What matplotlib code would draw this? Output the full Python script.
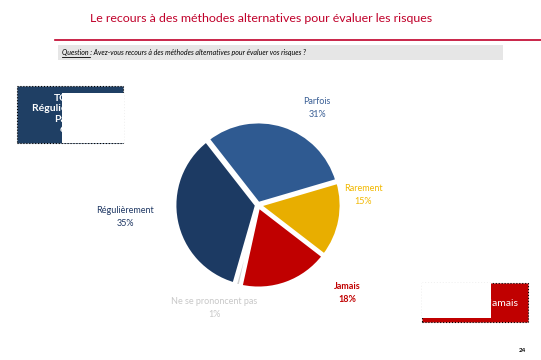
import matplotlib
matplotlib.use('Agg')
import matplotlib.pyplot as plt
from matplotlib.patches import Rectangle
from matplotlib.lines import Line2D

plt.rcParams['font.family'] = ['Lato', 'DejaVu Sans']

# Data
categories = ['Parfois', 'Rarement', 'Jamais', 'Ne se prononcent pas', 'Régulièrement']
values = [31, 15, 18, 1, 35]
colors = ['#2F5A91', '#E8AE00', '#C00000', '#CFCFCF', '#1C3A63']
label_colors = ['#3A5F95', '#F2B800', '#C00000', '#C8C8C8', '#1F3864']
total_top = ('TOTAL', 'Régulièrement +', 'Parfois', '66%')
total_bottom = ('TOTAL', 'Rarement + Jamais', '33%')

W, H = 541, 360
fig = plt.figure(figsize=(W / 100, H / 100), dpi=100)


def fx(x):
    return x / W


def fy(y):
    return 1 - y / H


# title and header
fig.text(fx(261), fy(18), 'Le recours à des méthodes alternatives pour évaluer les risques',
         ha='center', va='center', color='#C0002A', fontsize=8.9)
fig.add_artist(Line2D([fx(55), fx(541)], [fy(40), fy(40)], color='#C0002A', lw=1.2))
fig.add_artist(Rectangle((fx(58), fy(60)), fx(445), 15 / H, facecolor='#E6E6E6',
                         edgecolor='none', transform=fig.transFigure))
fig.text(fx(62), fy(52), 'Question : Avez-vous recours à des méthodes alternatives pour évaluer vos risques ?',
         ha='left', va='center', fontsize=5, style='italic', color='black')
fig.add_artist(Line2D([fx(62), fx(90)], [fy(57), fy(57)], color='black', lw=0.6))

# pie
cx, cy, r = 258, 205, 82
ax = fig.add_axes([fx(cx - 90), fy(cy + 90), 180 / W, 180 / H])
wedges, _ = ax.pie(values, colors=colors, startangle=128, counterclock=False,
                   radius=r / 90, explode=[0.015] * len(values),
                   wedgeprops=dict(edgecolor='white', linewidth=2.5))
ax.set_xlim(-1, 1)
ax.set_ylim(-1, 1)
ax.set_aspect('equal')
ax.axis('off')

label_pos = [(317, 108), (363, 195), (347, 293), (214, 308), (125, 217)]
for cat, val, col, (x, y) in zip(categories, values, label_colors, label_pos):
    fig.text(fx(x), fy(y), f'{cat}\n{val}%', ha='center', va='center', fontsize=6.5,
             color=col, linespacing=1.5, fontweight='bold' if cat == 'Jamais' else 'normal')

# left summary box (partly hidden)
fig.add_artist(Rectangle((fx(17), fy(143)), 106 / W, 57 / H, facecolor='#1F3F64',
                         edgecolor='black', linestyle=':', lw=0.8, transform=fig.transFigure))
fig.text(fx(70), fy(114), '\n'.join(total_top), ha='center', va='center', fontsize=7.5,
         color='white', fontweight='bold', linespacing=1.2)
fig.add_artist(Rectangle((fx(62), fy(143)), 62 / W, 50 / H, facecolor='white',
                         edgecolor='none', transform=fig.transFigure))

# right summary box (partly hidden)
fig.add_artist(Rectangle((fx(422), fy(322)), 106 / W, 39 / H, facecolor='#C00000',
                         edgecolor='black', linestyle=':', lw=0.8, transform=fig.transFigure))
fig.text(fx(475), fy(304), '\n'.join(total_bottom), ha='center', va='center', fontsize=7.5,
         color='white', linespacing=1.2)
fig.add_artist(Rectangle((fx(422), fy(318)), 69 / W, 35 / H, facecolor='white',
                         edgecolor='none', transform=fig.transFigure))

fig.text(fx(522), fy(350), '24', ha='center', va='center', fontsize=4.5, fontweight='bold')

fig.savefig('out.png', dpi=100)
